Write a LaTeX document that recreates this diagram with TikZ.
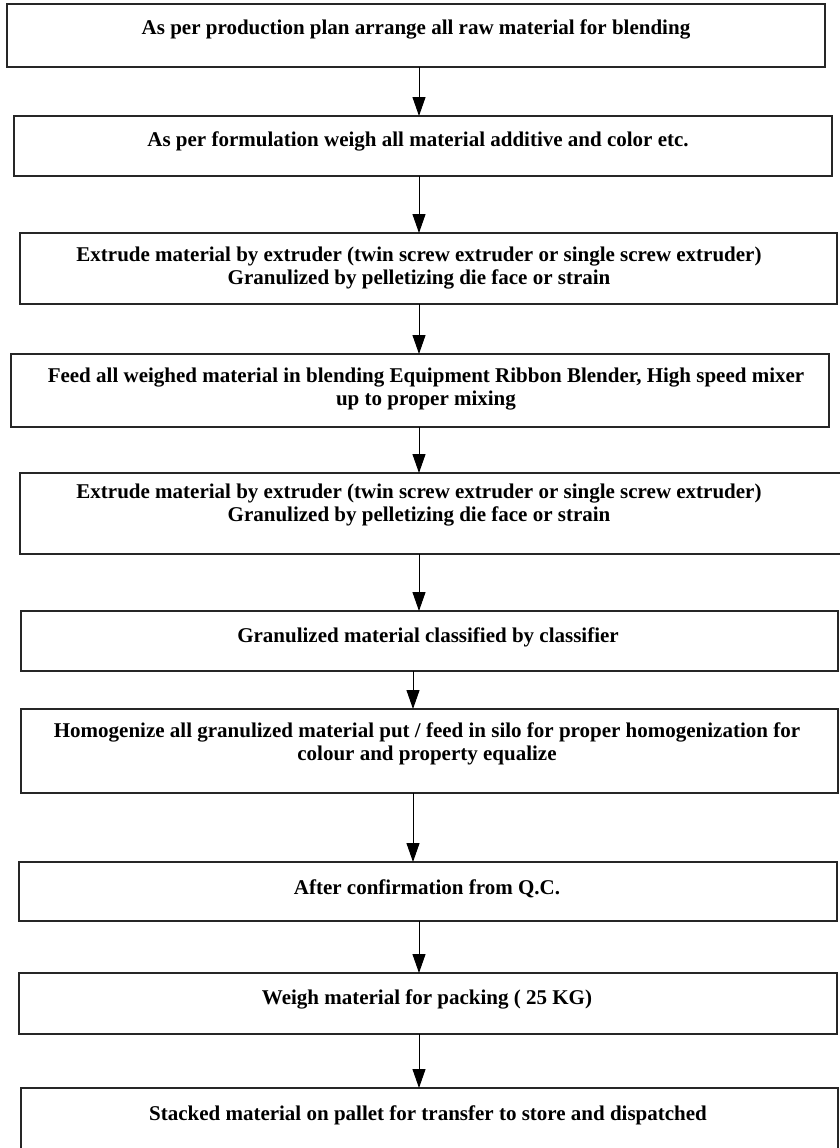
\documentclass[tikz,border=0pt]{standalone}
\usepackage{fontspec}
\setmainfont{Liberation Serif}
\usetikzlibrary{arrows.meta}
\tikzset{
  box/.style={draw=black!85, line width=1.2pt, inner sep=0pt, outer sep=0pt, fill=none},
  lbl/.style={font=\bfseries\fontsize{21}{23}\selectfont, align=center, inner sep=0pt, anchor=base},
  conn/.style={draw=black, line width=1pt, -{Triangle[length=19pt,width=13pt]}, shorten >=0pt}
}
\begin{document}
\begin{tikzpicture}[x=1pt,y=-1pt]
\useasboundingbox (0,0) rectangle (840,1148);
% boxes
\node[box, minimum width=818pt, minimum height=63pt] (b1) at (416,35.5) {};
\node[box, minimum width=818pt, minimum height=60pt] (b2) at (423,146) {};
\node[box, minimum width=817pt, minimum height=71pt] (b3) at (428.5,268.5) {};
\node[box, minimum width=818pt, minimum height=73pt] (b4) at (420,390.5) {};
\node[box, minimum width=826pt, minimum height=81pt] (b5) at (433,513.5) {};
\node[box, minimum width=817pt, minimum height=60pt] (b6) at (429.5,641) {};
\node[box, minimum width=817pt, minimum height=84pt] (b7) at (429.5,751) {};
\node[box, minimum width=818pt, minimum height=59pt] (b8) at (428,891.5) {};
\node[box, minimum width=818pt, minimum height=61pt] (b9) at (428,1003.5) {};
\node[box, minimum width=817pt, minimum height=64pt] (b10) at (429.5,1120) {};
% texts (base anchor = last line baseline)
\node[lbl] (t1) at (416,35) {As per production plan arrange all raw material for blending};
\node[lbl] (t2) at (418,146) {As per formulation weigh all material additive and color etc.};
\node[lbl] (t3) at (419,284) {Extrude material by extruder (twin screw extruder or single screw extruder)\\Granulized by pelletizing die face or strain};
\node[lbl] (t4) at (426,405) {Feed all weighed material in blending Equipment Ribbon Blender, High speed mixer\\up to proper mixing};
\node[lbl] (t5) at (419,521) {Extrude material by extruder (twin screw extruder or single screw extruder)\\Granulized by pelletizing die face or strain};
\node[lbl] (t6) at (428,642) {Granulized material classified by classifier};
\node[lbl] (t7) at (427,760) {Homogenize all granulized material put / feed in silo for proper homogenization for\\colour and property equalize};
\node[lbl] (t8) at (427,894) {After confirmation from Q.C.};
\node[lbl] (t9) at (427,1004) {Weigh material for packing ( 25 KG)};
\node[lbl] (t10) at (428,1120) {Stacked material on pallet for transfer to store and dispatched};
% connector axes
\coordinate (xa) at (419,0);
\coordinate (xb) at (413,0);
\draw[conn] (xa |- b1.south) -- (xa |- b2.north);
\draw[conn] (xa |- b2.south) -- (xa |- b3.north);
\draw[conn] (xa |- b3.south) -- (xa |- b4.north);
\draw[conn] (xa |- b4.south) -- (xa |- b5.north);
\draw[conn] (xa |- b5.south) -- (xa |- b6.north);
\draw[conn] (xb |- b6.south) -- (xb |- b7.north);
\draw[conn] (xb |- b7.south) -- (xb |- b8.north);
\draw[conn] (xa |- b8.south) -- (xa |- b9.north);
\draw[conn] (xa |- b9.south) -- (xa |- b10.north);
\end{tikzpicture}
\end{document}
